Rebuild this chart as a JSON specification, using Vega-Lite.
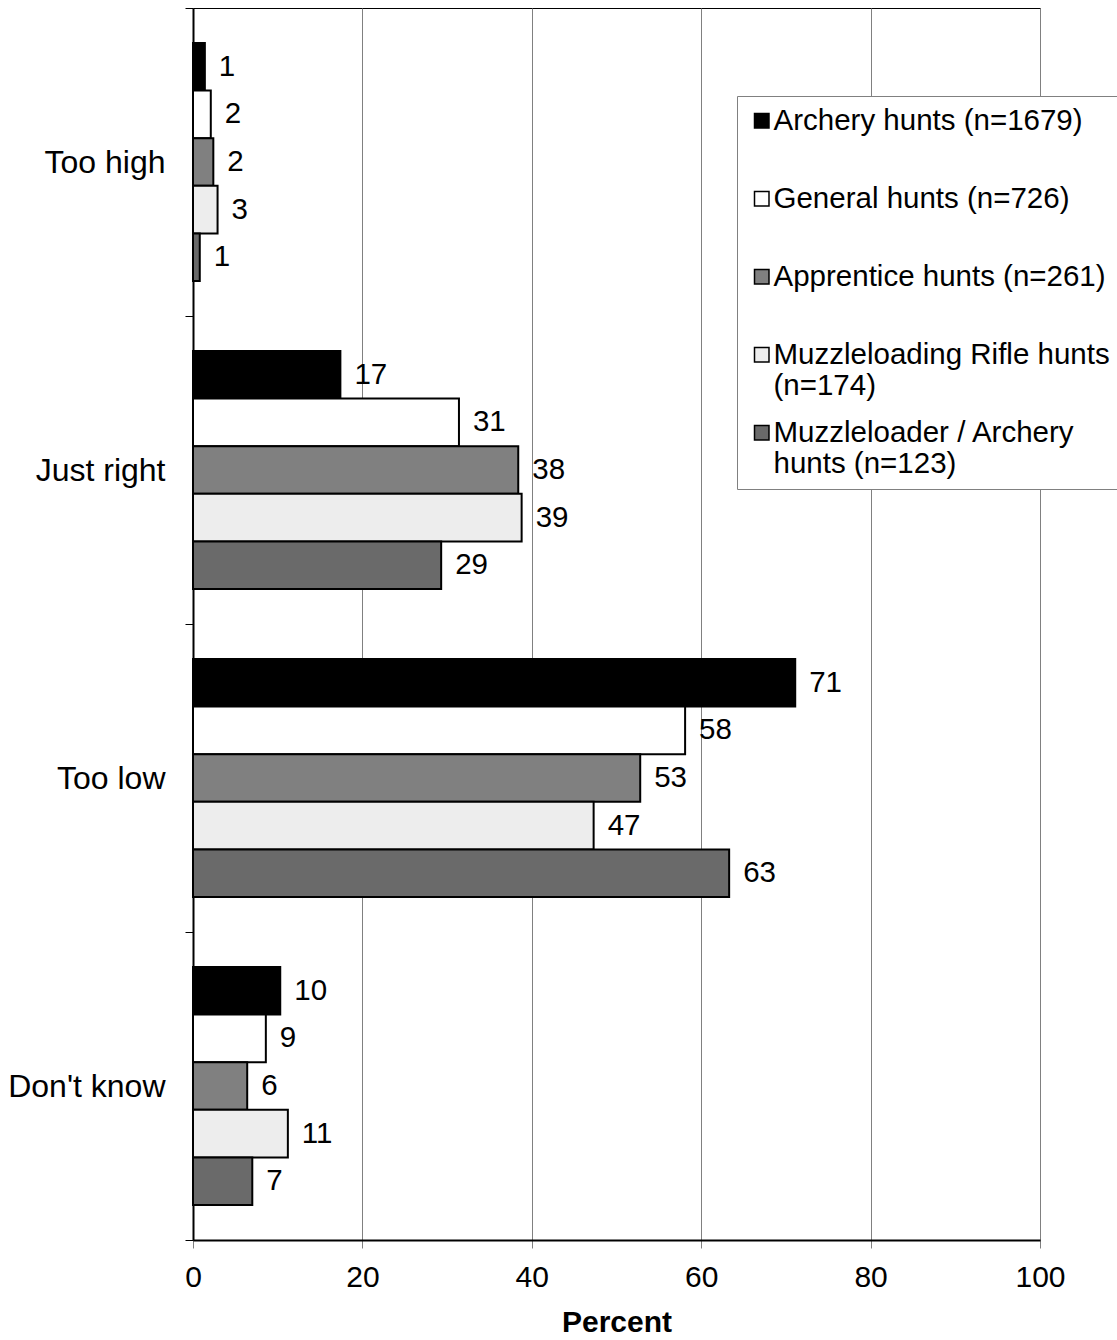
{
  "$schema": "https://vega.github.io/schema/vega-lite/v6.json",
  "autosize": {"type": "none"},
  "padding": {"left": 193, "top": 8, "right": 77, "bottom": 100},
  "width": 847,
  "height": 1232,
  "background": "white",
  "config": {
    "font": "Liberation Sans",
    "view": {"stroke": "black", "strokeWidth": 1},
    "axis": {"labelColor": "black", "titleColor": "black", "labelFont": "Liberation Sans", "titleFont": "Liberation Sans"}
  },
  "data": {
    "values": [
      {"response": "Too high", "group": "Archery hunts (n=1679)", "percent": 1.4},
      {"response": "Too high", "group": "General hunts (n=726)", "percent": 2.1},
      {"response": "Too high", "group": "Apprentice hunts (n=261)", "percent": 2.4},
      {"response": "Too high", "group": "Muzzleloading Rifle hunts (n=174)", "percent": 2.9},
      {"response": "Too high", "group": "Muzzleloader / Archery hunts (n=123)", "percent": 0.8},
      {"response": "Just right", "group": "Archery hunts (n=1679)", "percent": 17.4},
      {"response": "Just right", "group": "General hunts (n=726)", "percent": 31.4},
      {"response": "Just right", "group": "Apprentice hunts (n=261)", "percent": 38.4},
      {"response": "Just right", "group": "Muzzleloading Rifle hunts (n=174)", "percent": 38.8},
      {"response": "Just right", "group": "Muzzleloader / Archery hunts (n=123)", "percent": 29.3},
      {"response": "Too low", "group": "Archery hunts (n=1679)", "percent": 71.1},
      {"response": "Too low", "group": "General hunts (n=726)", "percent": 58.1},
      {"response": "Too low", "group": "Apprentice hunts (n=261)", "percent": 52.8},
      {"response": "Too low", "group": "Muzzleloading Rifle hunts (n=174)", "percent": 47.3},
      {"response": "Too low", "group": "Muzzleloader / Archery hunts (n=123)", "percent": 63.3},
      {"response": "Don't know", "group": "Archery hunts (n=1679)", "percent": 10.3},
      {"response": "Don't know", "group": "General hunts (n=726)", "percent": 8.6},
      {"response": "Don't know", "group": "Apprentice hunts (n=261)", "percent": 6.4},
      {"response": "Don't know", "group": "Muzzleloading Rifle hunts (n=174)", "percent": 11.2},
      {"response": "Don't know", "group": "Muzzleloader / Archery hunts (n=123)", "percent": 7.0}
    ]
  },
  "encoding": {
    "y": {
      "field": "response", "type": "nominal",
      "sort": ["Too high", "Just right", "Too low", "Don't know"],
      "scale": {"paddingInner": 0, "paddingOuter": 0},
      "axis": {
        "title": null, "tickBand": "extent", "tickSize": 8, "tickColor": "black", "tickWidth": 1,
        "labelPadding": 20, "labelFontSize": 32, "domainColor": "black", "domainWidth": 2, "grid": false
      }
    },
    "yOffset": {
      "field": "group", "type": "nominal",
      "sort": ["Archery hunts (n=1679)", "General hunts (n=726)", "Apprentice hunts (n=261)", "Muzzleloading Rifle hunts (n=174)", "Muzzleloader / Archery hunts (n=123)"],
      "scale": {"paddingInner": 0, "paddingOuter": 0.735}
    },
    "x": {
      "field": "percent", "type": "quantitative",
      "scale": {"domain": [0, 100], "nice": false},
      "axis": {
        "title": "Percent", "titleFontSize": 30, "titleFontWeight": "bold", "titlePadding": 15,
        "values": [0, 20, 40, 60, 80, 100], "labelFontSize": 30, "labelPadding": 14, "labelFlush": false, "tickSize": 8,
        "tickColor": "#808080", "domainColor": "black", "domainWidth": 2,
        "grid": true, "gridColor": "#808080", "gridWidth": 1
      }
    }
  },
  "layer": [
    {
      "mark": {"type": "bar", "stroke": "black", "strokeWidth": 2, "opacity": 1},
      "encoding": {
        "color": {
          "field": "group", "type": "nominal",
          "scale": {
            "domain": ["Archery hunts (n=1679)", "General hunts (n=726)", "Apprentice hunts (n=261)", "Muzzleloading Rifle hunts (n=174)", "Muzzleloader / Archery hunts (n=123)"],
            "range": ["#000000", "#ffffff", "#808080", "#ededed", "#6a6a6a"]
          },
          "legend": {
            "title": null, "orient": "none", "legendX": 544, "legendY": 88,
            "fillColor": "white", "strokeColor": "#808080", "padding": 10,
            "symbolType": "square", "symbolSize": 210, "symbolStrokeColor": "black", "symbolStrokeWidth": 1.5, "symbolOpacity": 1,
            "labelFontSize": 29.5, "labelFont": "Liberation Sans", "labelColor": "black", "labelLimit": 0, "labelOffset": -3,
            "rowPadding": 16,
            "labelExpr": "datum.label == 'Muzzleloading Rifle hunts (n=174)' ? ['Muzzleloading Rifle hunts', '(n=174)'] : datum.label == 'Muzzleloader / Archery hunts (n=123)' ? ['Muzzleloader / Archery', 'hunts (n=123)'] : [datum.label, ' ']"
          }
        }
      }
    },
    {
      "mark": {"type": "text", "align": "left", "baseline": "middle", "dx": 14, "fontSize": 29.5, "font": "Liberation Sans", "color": "black"},
      "encoding": {
        "text": {"field": "percent", "type": "quantitative", "format": ".0f"}
      }
    }
  ]
}
